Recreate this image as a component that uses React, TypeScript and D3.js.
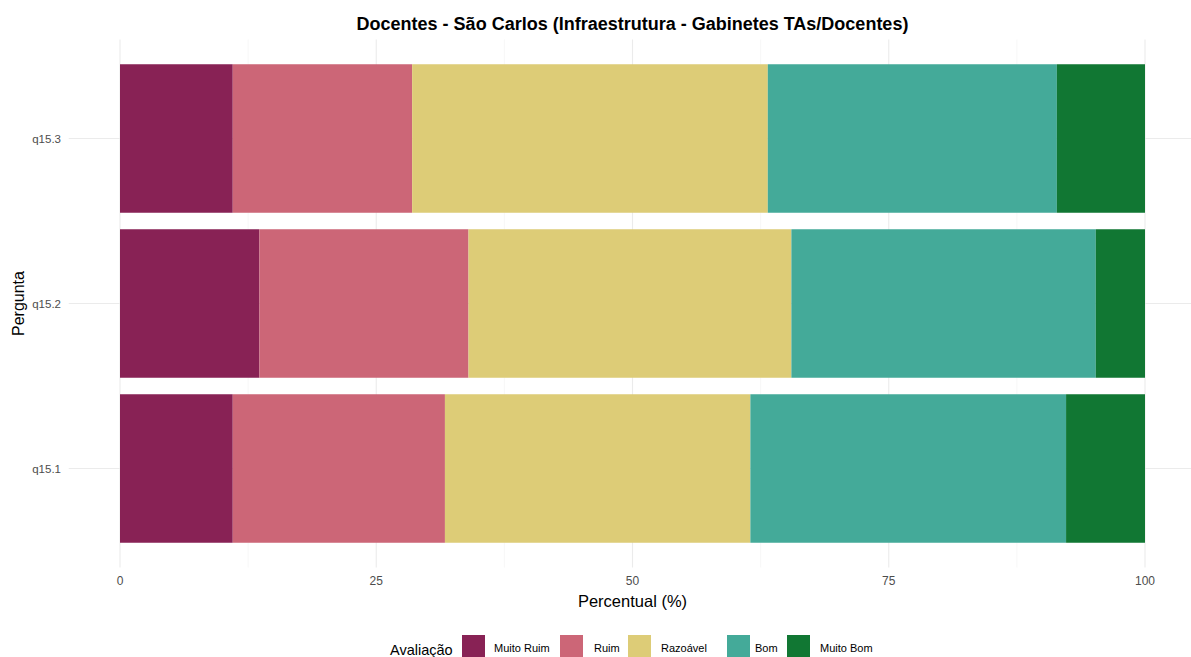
import React from "react";
import * as d3 from "d3";

const categories = ["q15.1", "q15.2", "q15.3"];
const levels = ["Muito Ruim", "Ruim", "Razoável", "Bom", "Muito Bom"];
const colors = ["#882255", "#CC6677", "#DDCC77", "#44AA99", "#117733"];
const muitoRuim = [11.0, 13.6, 11.0];
const ruim = [20.7, 20.4, 17.5];
const razoavel = [29.8, 31.5, 34.7];
const bom = [30.8, 29.7, 28.2];
const muitoBom = [7.7, 4.8, 8.6];
const xTicks = [0, 25, 50, 75, 100];

const W = 1191, H = 657;
const panelLeft = 68.75, panelRight = 1196.25, panelTop = 39.5, panelBottom = 567.5;

export default function App() {
  const series = [muitoRuim, ruim, razoavel, bom, muitoBom];
  const x = d3.scaleLinear().domain([-5, 105]).range([panelLeft, panelRight]);
  const y = d3.scaleLinear().domain([0.4, 3.6]).range([panelBottom, panelTop]);
  const rows = categories.map((c, i) => {
    const obj: any = { cat: c };
    levels.forEach((l, j) => (obj[l] = series[j][i]));
    return obj;
  });
  const stacked = d3.stack().keys(levels)(rows);
  const minor = [12.5, 37.5, 62.5, 87.5];
  const font = "Liberation Sans, Arial, sans-serif";
  const legendItems = [
    { key: 462, text: 494 },
    { key: 560, text: 594 },
    { key: 628, text: 661 },
    { key: 727, text: 755 },
    { key: 787, text: 820 },
  ];
  return (
    <svg width={W} height={H} style={{ position: "absolute", left: 0, top: 0, background: "#fff" }} fontFamily={font}>
      <rect width={W} height={H} fill="#fff" />
      {minor.map((t) => (
        <line key={"m" + t} x1={x(t)} x2={x(t)} y1={panelTop} y2={panelBottom} stroke="#f2f2f2" strokeWidth={0.6} />
      ))}
      {xTicks.map((t) => (
        <line key={"g" + t} x1={x(t)} x2={x(t)} y1={panelTop} y2={panelBottom} stroke="#ebebeb" strokeWidth={1.1} />
      ))}
      {categories.map((c, i) => (
        <line key={"h" + c} x1={panelLeft} x2={panelRight} y1={y(i + 1)} y2={y(i + 1)} stroke="#ebebeb" strokeWidth={1.1} />
      ))}
      {stacked.map((s, j) =>
        s.map((d, i) => (
          <rect
            key={j + "-" + i}
            x={x(d[0])}
            width={x(d[1]) - x(d[0])}
            y={y(i + 1 + 0.45)}
            height={y(i + 1 - 0.45) - y(i + 1 + 0.45)}
            fill={colors[j]}
          />
        ))
      )}
      {xTicks.map((t) => (
        <text key={"xt" + t} x={x(t)} y={585} textAnchor="middle" fontSize={12} fill="#4d4d4d">
          {t}
        </text>
      ))}
      {categories.map((c, i) => (
        <text key={"yt" + c} x={61} y={y(i + 1) + 4} textAnchor="end" fontSize={11.5} fill="#4d4d4d">
          {c}
        </text>
      ))}
      <text x={(panelLeft + panelRight) / 2} y={607} textAnchor="middle" fontSize={16.5} fill="#000">
        Percentual (%)
      </text>
      <text transform={`translate(24,${(panelTop + panelBottom) / 2}) rotate(-90)`} textAnchor="middle" fontSize={16} fill="#000">
        Pergunta
      </text>
      <text x={(panelLeft + panelRight) / 2} y={30} textAnchor="middle" fontSize={18} fontWeight="bold" fill="#000">
        Docentes - São Carlos (Infraestrutura - Gabinetes TAs/Docentes)
      </text>
      <text x={390} y={655} fontSize={14.5} fill="#000">
        Avaliação
      </text>
      {levels.map((l, j) => (
        <g key={"lg" + l}>
          <rect x={legendItems[j].key} y={635} width={23} height={23} fill={colors[j]} />
          <text x={legendItems[j].text} y={652} fontSize={11} fill="#000">
            {l}
          </text>
        </g>
      ))}
    </svg>
  );
}
